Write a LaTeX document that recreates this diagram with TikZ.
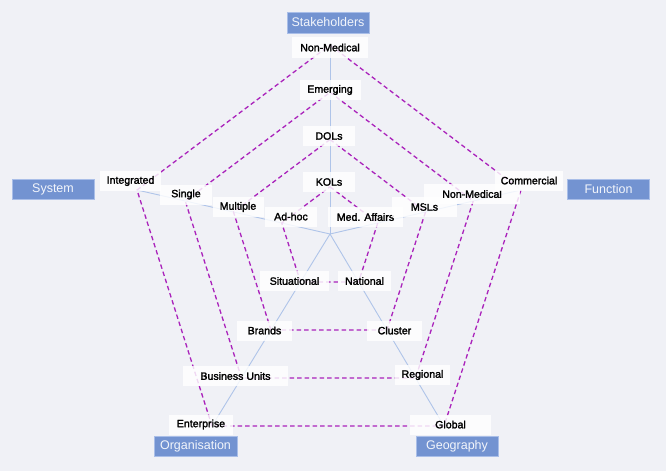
\documentclass[tikz,border=0pt]{standalone}
\usepackage{fontspec}
\setmainfont{Liberation Sans}
\newfontfamily\lblfont{Liberation Sans}[FakeBold=2]
\usetikzlibrary{calc}
\definecolor{bgcol}{HTML}{F0F1F6}
\definecolor{catfill}{HTML}{7393D1}
\definecolor{catdraw}{HTML}{A9BEE8}
\definecolor{cattext}{HTML}{F2F5FB}
\definecolor{dashcol}{HTML}{AA22BB}
\definecolor{axiscol}{HTML}{AFC4E9}
\tikzset{
  lbl/.style={fill=white, fill opacity=0.82, text opacity=1, text=black,
    inner sep=0pt, minimum height=20pt, font=\lblfont\fontsize{10.6}{12}\selectfont},
  cat/.style={fill=catfill, draw=catdraw, line width=0.6pt, text=cattext,
    inner sep=0pt, minimum height=20pt, minimum width=82pt,
    font=\fontsize{12.5}{14}\selectfont},
  axisline/.style={draw=axiscol, line width=0.9pt},
  ring/.style={draw=dashcol, line width=1.3pt, dash pattern=on 4.5pt off 3pt},
}
\begin{document}
\begin{tikzpicture}[x=1pt, y=-1pt]
\fill[bgcol] (0,0) rectangle (666,471);
\useasboundingbox (0,0) rectangle (666,471);
% centre and axis ends
\coordinate (C) at (330,234);
\coordinate (T) at (330,45);
\coordinate (L) at (137,190);
\coordinate (R) at (521,190);
\coordinate (BL) at (212,426);
\coordinate (BR) at (444,426);
% axes
\foreach \e in {T,L,R,BL,BR} \draw[axisline] (C) -- (\e);
% level vertices
\foreach \e in {T,L,R,BL,BR}{
  \foreach \k/\f in {1/0.25,2/0.5,3/0.75,4/1}{
    \coordinate (\e\k) at ($(C)!\f!(\e)$);
  }
}
% dashed rings
\foreach \k in {1,2,3,4}
  \draw[ring] (T\k) -- (R\k) -- (BR\k) -- (BL\k) -- (L\k) -- cycle;
% labels: top axis
\node[lbl, minimum width=76pt, minimum height=21pt] (nmT) at (330,47.5) {Non-Medical};
\node[lbl, minimum width=61pt] (emer) at (330,90) {Emerging};
\node[lbl, minimum width=52pt] (dols) at (329,136) {DOLs};
\node[lbl, minimum width=52pt] (kols) at (329,182) {KOLs};
% left axis
\node[lbl, minimum width=61pt] (integ) at (130.5,181) {Integrated};
\node[lbl, minimum width=52pt] (single) at (186,194.5) {Single};
\node[lbl, minimum width=51pt] (mult) at (238,207) {Multiple};
\node[lbl, minimum width=52pt] (adhoc) at (291,216.5) {Ad-hoc};
% right axis
\node[lbl, minimum width=75pt] (med) at (365.5,217) {Med. Affairs};
\node[lbl, minimum width=65pt] (msls) at (424.5,207) {MSLs};
\node[lbl, minimum width=96pt] (nmR) at (472,194) {Non-Medical};
\node[lbl, minimum width=68pt] (comm) at (529,180.5) {Commercial};
% lower-left axis
\node[lbl, minimum width=69pt] (situ) at (294.5,281) {Situational};
\node[lbl, minimum width=55pt] (brands) at (264.5,330.5) {Brands};
\node[lbl, minimum width=105pt] (bu) at (235.5,376) {Business Units};
\node[lbl, minimum width=64pt] (ent) at (201,424.5) {Enterprise};
% lower-right axis
\node[lbl, minimum width=53pt] (nat) at (364.5,281) {National};
\node[lbl, minimum width=55pt] (clus) at (394.5,330.5) {Cluster};
\node[lbl, minimum width=55pt] (reg) at (422.5,375) {Regional};
\node[lbl, minimum width=81pt] (glob) at (450.5,424.5) {Global};
% category boxes
\node[cat, minimum height=21pt] (stake) at (328,22.5) {Stakeholders};
\node[cat] (sys) at (53,189) {System};
\node[cat] (func) at (608.5,189) {Function};
\node[cat, minimum width=83pt] (org) at (195.5,446) {Organisation};
\node[cat] (geo) at (457,446) {Geography};
\end{tikzpicture}
\end{document}
